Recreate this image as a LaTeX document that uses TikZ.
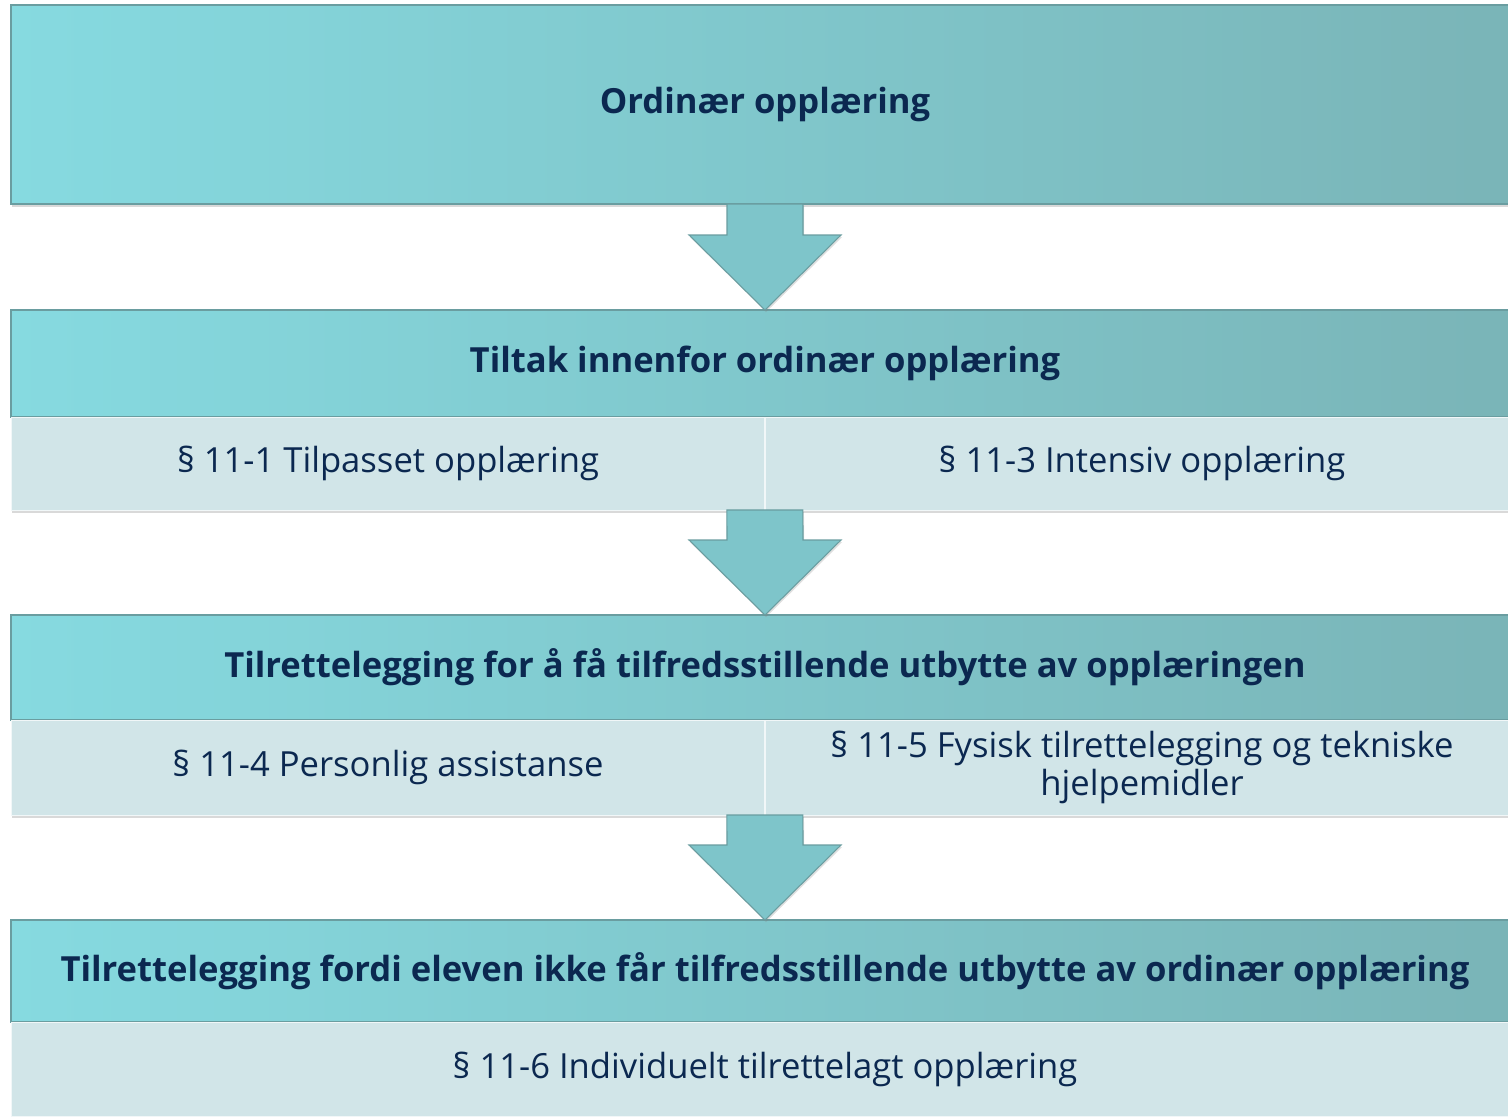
\documentclass[tikz,border=0pt]{standalone}
\usepackage{fontspec}
\setmainfont{Open Sans}
\usetikzlibrary{calc,shadows}

\definecolor{navy}{HTML}{0B2850}
\definecolor{headL}{HTML}{86DAE0}
\definecolor{headM}{HTML}{82CED4}
\definecolor{headR}{HTML}{7AB4B7}
\definecolor{headline}{HTML}{6A9DA0}
\definecolor{subfill}{HTML}{D1E5E8}
\definecolor{arrowfill}{HTML}{7EC5CA}

\tikzset{
  box/.style={rectangle, inner sep=0pt, outer sep=0pt, text=navy, align=center,
    drop shadow={shadow xshift=0.6pt, shadow yshift=-1.6pt, opacity=0.3}},
  head/.style={box, draw=headline, line width=0.8pt, left color=headL,
    middle color=headM, right color=headR, minimum width=30.16cm,
    font=\fontsize{19.7}{22}\selectfont\bfseries},
  sub/.style={box, fill=subfill, draw=white!70!subfill, line width=0.5pt,
    minimum width=15.08cm, minimum height=#1,
    font=\fontsize{19.7}{21.5}\selectfont},
  flow/.style={fill=arrowfill, draw=headline, line width=0.6pt,
    drop shadow={shadow xshift=0.6pt, shadow yshift=-1.2pt, opacity=0.25}}
}

% arrow from one box down to the next
\newcommand{\flowarrow}[2]{%
  \path[flow] ($#1+(-38,0)$) -- ($#2+(-38,-75)$) -- ($#2+(-76,-75)$) -- #2
    -- ($#2+(76,-75)$) -- ($#2+(38,-75)$) -- ($#1+(38,0)$) -- cycle;}

\begin{document}
\begin{tikzpicture}[x=0.02cm, y=-0.02cm]
  \useasboundingbox (0,0) rectangle (1508,1116);
  \clip (0,0) rectangle (1508,1116);

  \node[head, minimum height=3.98cm] (ord) at (765,104.5) {\raisebox{-1.3pt}{Ordinær opplæring}};

  \node[head, minimum height=2.14cm] (tiltak) at (765,363.5) {\raisebox{-1.3pt}{Tiltak innenfor ordinær opplæring}};
  \node[sub=1.86cm] (p111) at (388,463.5) {\raisebox{-1pt}{§ 11-1 Tilpasset opplæring}};
  \node[sub=1.86cm] (p113) at (1142,463.5) {\raisebox{-1pt}{§ 11-3 Intensiv opplæring}};

  \node[head, minimum height=2.1cm] (tilr) at (765,667.5) {\raisebox{-1pt}{Tilrettelegging for å få tilfredsstillende utbytte av opplæringen}};
  \node[sub=1.9cm] (p114) at (388,767.5) {\raisebox{-1pt}{§ 11-4 Personlig assistanse}};
  \node[sub=1.9cm] (p115) at (1142,767.5) {§ 11-5 Fysisk tilrettelegging og tekniske\\hjelpemidler};

  \node[head, minimum height=2.04cm] (fordi) at (765,971) {\raisebox{-1pt}{Tilrettelegging fordi eleven ikke får tilfredsstillende utbytte av ordinær opplæring}};
  \node[sub=1.88cm, minimum width=30.16cm] (p116) at (765,1069) {\raisebox{-1pt}{§ 11-6 Individuelt tilrettelagt opplæring}};

  \flowarrow{(ord.south)}{(tiltak.north)}
  \flowarrow{(p111.south east)}{(tilr.north)}
  \flowarrow{(p114.south east)}{(fordi.north)}
\end{tikzpicture}
\end{document}
